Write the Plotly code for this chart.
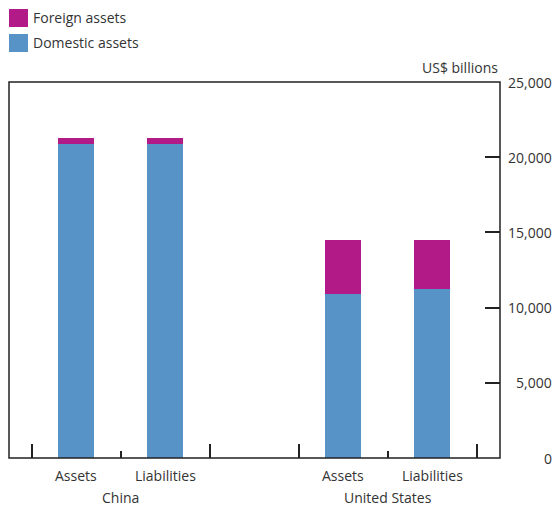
import plotly.graph_objects as go

# Data
bar_labels = ["Assets", "Liabilities", "", "Assets", "Liabilities"]
group_labels = ["China", "United States"]
domestic = [20880, 20880, None, 10900, 11240]
foreign = [380, 380, None, 3600, 3260]
y_ticks = [0, 5000, 10000, 15000, 20000, 25000]
y_tick_text = ["0", "5,000", "10,000", "15,000", "20,000", "25,000"]

BLUE = "#5793c6"
MAGENTA = "#b21b87"
TXT = "#333333"
LINE = "#222222"
FONT = "Open Sans"
FS = 14

x = list(range(len(bar_labels)))

fig = go.Figure()
fig.add_trace(go.Bar(x=x, y=domestic, marker=dict(color=BLUE, line=dict(width=0)),
                     width=0.405, name="Domestic assets", showlegend=False))
fig.add_trace(go.Bar(x=x, y=foreign, marker=dict(color=MAGENTA, line=dict(width=0)),
                     width=0.405, name="Foreign assets", showlegend=False))

W, H = 555, 507
ml, mr, mt, mb = 9, 55, 82, 49
pw, ph = W - ml - mr, H - mt - mb

def px2paper(px, py):
    return (px - ml) / pw, 1 - (py - mt) / ph

annotations = []
# category labels
for i, lab in enumerate(bar_labels):
    if lab:
        annotations.append(dict(x=i, y=0, xref="x", yref="paper", text=lab, showarrow=False,
                                yanchor="top", yshift=-6, font=dict(size=FS, color=TXT, family=FONT)))
for gx, g in zip([0.5, 3.5], group_labels):
    annotations.append(dict(x=gx, y=0, xref="x", yref="paper", text=g, showarrow=False,
                            yanchor="top", yshift=-28, font=dict(size=FS, color=TXT, family=FONT)))
# y tick labels (right-aligned)
for v, t in zip(y_ticks, y_tick_text):
    annotations.append(dict(x=1, y=v, xref="paper", yref="y", text=t, showarrow=False,
                            xanchor="right", xshift=54, font=dict(size=FS, color=TXT, family=FONT)))
annotations.append(dict(x=1, y=1, xref="paper", yref="paper", text="US$ billions", showarrow=False,
                        xanchor="right", yanchor="bottom", yshift=3, font=dict(size=FS, color=TXT, family=FONT)))
# legend
for (ytxt, txt) in [(18, "Foreign assets"), (43, "Domestic assets")]:
    xp, yp = px2paper(31, ytxt)
    annotations.append(dict(x=xp, y=yp, xref="paper", yref="paper", text=txt, showarrow=False,
                            xanchor="left", yanchor="middle", font=dict(size=FS, color=TXT, family=FONT)))

shapes = [
    dict(type="rect", xref="paper", yref="paper", x0=0, x1=1, y0=0, y1=1,
         line=dict(color=LINE, width=1.5), layer="above"),
]
for (y0, col) in [(9, MAGENTA), (34, BLUE)]:
    x0p, y0p = px2paper(9, y0)
    x1p, y1p = px2paper(28, y0 + 18)
    shapes.append(dict(type="rect", xref="paper", yref="paper", x0=x0p, x1=x1p, y0=y1p, y1=y0p,
                       fillcolor=col, line=dict(width=0)))

fig.update_layout(
    width=W, height=H,
    margin=dict(l=ml, r=mr, t=mt, b=mb),
    barmode="stack",
    plot_bgcolor="white", paper_bgcolor="white",
    font=dict(family=FONT, size=FS, color=TXT),
    xaxis=dict(range=[-0.755, 4.762], showgrid=False, zeroline=False, showline=False,
               tickmode="array", tickvals=[-0.5, 1.5, 2.5, 4.5], ticks="inside", ticklen=14,
               tickwidth=1.5, tickcolor=LINE, showticklabels=False,
               minor=dict(tickmode="array", tickvals=[0.5, 3.5], ticks="inside", ticklen=7,
                          tickwidth=1.5, tickcolor=LINE)),
    yaxis=dict(range=[0, 25000], side="right", showgrid=False, zeroline=False, showline=False,
               tickmode="array", tickvals=y_ticks[1:-1], ticks="inside", ticklen=15,
               tickwidth=1.5, tickcolor=LINE, showticklabels=False),
    annotations=annotations,
    shapes=shapes,
)

fig.write_html("out.html", config={"displayModeBar": False},
               post_script="document.body.style.margin='0';document.body.style.overflow='hidden';")
